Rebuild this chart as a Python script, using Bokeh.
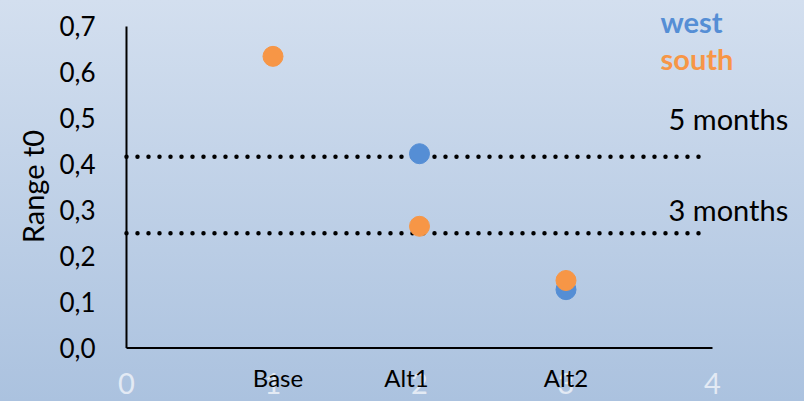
import math
from bokeh.plotting import figure
from bokeh.models import Range1d
from bokeh.core.properties import value
from bokeh.embed import file_html
from bokeh.resources import INLINE

# ---- data ----
categories = ["Base", "Alt1", "Alt2"]
cat_x = [1, 2, 3]
west = [math.nan, 0.423, 0.127]
south = [0.635, 0.265, 0.147]
series_names = ["west", "south"]
threshold_names = ["5 months", "3 months"]
threshold_values = [5 / 12, 3 / 12]
x_ticks = [0, 1, 2, 3, 4]
x_tick_labels = ["0", "1", "2", "3", "4"]
y_ticks = [0.0, 0.1, 0.2, 0.3, 0.4, 0.5, 0.6, 0.7]
y_tick_labels = ["0,0", "0,1", "0,2", "0,3", "0,4", "0,5", "0,6", "0,7"]
y_axis_title = "Range t0"
x_axis_span = [0, 4]
y_axis_span = [0, 0.7]
line_extent = [0, 3.96]

BLUE = "#558ed5"
ORANGE = "#f79646"
FONT = "Lato"

p = figure(width=804, height=401, output_backend="svg", toolbar_location=None,
           x_range=Range1d(-0.860, 4.628), y_range=Range1d(-0.1165, 0.7566),
           x_axis_location=None, y_axis_location=None,
           min_border_left=0, min_border_right=0,
           min_border_top=0, min_border_bottom=0)

p.styles = {"background": "linear-gradient(180deg, #d3dfef 0%, #abc2df 100%)"}
p.background_fill_alpha = 0
p.border_fill_alpha = 0
p.outline_line_color = None
p.xgrid.visible = False
p.ygrid.visible = False

# axis lines
p.line([x_axis_span[0], x_axis_span[0]], y_axis_span, line_color="black", line_width=2)
p.line(x_axis_span, [y_axis_span[0], y_axis_span[0]], line_color="black", line_width=2)

# y tick labels
p.text(x=[0] * len(y_ticks), y=y_ticks, text=y_tick_labels, x_offset=-31,
       text_align="right", text_baseline="alphabetic",
       text_font=value(FONT), text_font_size="26px", text_color="black")

# y axis title
p.text(x=[-0.642], y=[0.3516], text=[y_axis_title], angle=math.pi / 2,
       text_align="center", text_baseline="alphabetic",
       text_font=value(FONT), text_font_size="29px", text_color="black")

# faint numeric x labels
p.text(x=x_ticks, y=[0] * len(x_ticks), text=x_tick_labels, y_offset=36,
       text_align="center", text_baseline="alphabetic",
       text_font=value(FONT), text_font_size="29px", text_color="#e3eaf4")

# category labels
p.text(x=cat_x, y=[0] * len(cat_x), text=categories, x_offset=[5, -13, 0], y_offset=30,
       text_align="center", text_baseline="alphabetic",
       text_font=value(FONT), text_font_size="24px", text_color="black")

# threshold dotted lines
for v in threshold_values:
    p.line(line_extent, [v, v], line_color="black", line_width=4.5,
           line_dash="0 11", line_cap="round")

# points
p.scatter(cat_x, west, size=20, color=BLUE)
p.scatter(cat_x, south, size=20, color=ORANGE)

# threshold texts (placed above their lines)
p.text(x=[3.70, 3.70], y=threshold_values, text=threshold_names, y_offset=[-38, -24],
       text_align="left", text_baseline="alphabetic",
       text_font=value(FONT), text_font_size="29px", text_color="black")

# legend texts
p.text(x=[3.645, 3.645], y=[0.7115, 0.6305], text=series_names,
       text_align="left", text_baseline="alphabetic",
       text_font=value(FONT), text_font_style="bold", text_font_size="29px",
       text_color=[BLUE, ORANGE])

open("out.html", "w").write(file_html(p, INLINE))
